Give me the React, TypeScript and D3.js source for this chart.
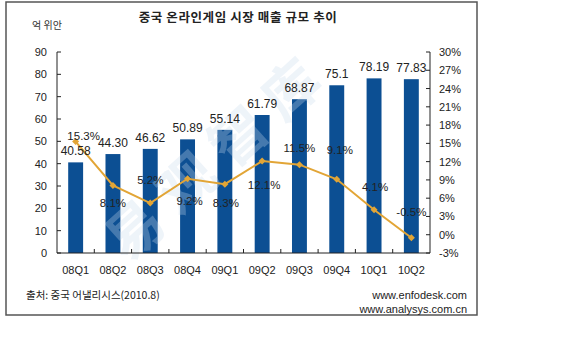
import React from "react";
import * as d3 from "d3";

const categories = ["08Q1", "08Q2", "08Q3", "08Q4", "09Q1", "09Q2", "09Q3", "09Q4", "10Q1", "10Q2"];
const revenue = [40.58, 44.3, 46.62, 50.89, 55.14, 61.79, 68.87, 75.1, 78.19, 77.83];
const revenueLabels = ["40.58", "44.30", "46.62", "50.89", "55.14", "61.79", "68.87", "75.1", "78.19", "77.83"];
const growth = [15.3, 8.1, 5.2, 9.2, 8.3, 12.1, 11.5, 9.1, 4.1, -0.5];
const leftTicks = [0, 10, 20, 30, 40, 50, 60, 70, 80, 90];
const rightTicks = [-3, 0, 3, 6, 9, 12, 15, 18, 21, 24, 27, 30];

const title = "중국 온라인게임 시장 매출 규모 추이";
const unitLabel = "억 위안";
const sourceLabel = "출처: 중국 어낼리시스(2010.8)";
const site1 = "www.enfodesk.com";
const site2 = "www.analysys.com.cn";
const watermark = "易观智库";

// label placement (layout, not data)
const growthLabelDy = [-6, 18, -23, 22, 19, 24, -17, -29, -23, -26];
const growthLabelDx = [8, 0, 0, 2, 1, 2, 0, 3, 1, 0];

const W = 570;
const H = 356;
const plot = { left: 57, right: 430, top: 52, bottom: 253 };
const NUM_FONT = "'Liberation Sans', Arial, sans-serif";
const KR_FONT = "'Noto Sans CJK KR', sans-serif";
const BAR = "#0c4f93";
const LINE = "#e2a536";

export default function App() {
  const x = d3
    .scaleBand<string>()
    .domain(categories)
    .range([plot.left, plot.right])
    .paddingInner(0.6)
    .paddingOuter(0.3);
  const step = (plot.right - plot.left) / categories.length;
  const yL = d3.scaleLinear().domain([0, 90]).range([plot.bottom, plot.top]);
  const yR = d3.scaleLinear().domain([-3, 30]).range([plot.bottom, plot.top]);
  const cx = (c: string) => (x(c) as number) + x.bandwidth() / 2;

  const line = d3
    .line<number>()
    .x((_, i) => cx(categories[i]))
    .y((d) => yR(d));

  return (
    <svg
      width={W}
      height={H}
      style={{ position: "absolute", left: 0, top: 0, background: "#fff" }}
    >
      <rect x={0} y={0} width={W} height={H} fill="#fff" />
      <rect x={6} y={2} width={471} height={313} fill="#fff" stroke="#555" strokeWidth={1.5} />

      <text
        x={238}
        y={22}
        textAnchor="middle"
        fontFamily={KR_FONT}
        fontWeight="bold"
        fontSize={12.5}
        letterSpacing={0.6}
        fill="#222"
      >
        {title}
      </text>
      <text x={32} y={29} fontFamily={KR_FONT} fontSize={10} fill="#333">
        {unitLabel}
      </text>

      {/* bars */}
      {categories.map((c, i) => (
        <rect
          key={c}
          x={x(c)}
          y={yL(revenue[i])}
          width={x.bandwidth()}
          height={plot.bottom - yL(revenue[i])}
          fill={BAR}
        />
      ))}

      {/* watermark */}
      <text
        transform="translate(215,152) rotate(-42)"
        textAnchor="middle"
        dominantBaseline="central"
        fontFamily="'Noto Sans CJK SC', sans-serif"
        fontWeight="bold"
        fontSize={56}
        letterSpacing={14}
        fill="#c9dbee"
        opacity={0.3}
      >
        {watermark}
      </text>

      {/* axes */}
      <g stroke="#222" strokeWidth={1} fill="none">
        <line x1={plot.left} x2={plot.left} y1={plot.top} y2={plot.bottom} />
        <line x1={plot.right} x2={plot.right} y1={plot.top} y2={plot.bottom} />
        <line x1={plot.left} x2={plot.right} y1={plot.bottom} y2={plot.bottom} />
        {leftTicks.map((t) => (
          <line key={"l" + t} x1={plot.left} x2={plot.left + 4} y1={yL(t)} y2={yL(t)} />
        ))}
        {rightTicks.map((t) => (
          <line key={"r" + t} x1={plot.right - 4} x2={plot.right} y1={yR(t)} y2={yR(t)} />
        ))}
        {categories.map((c, i) =>
          i === 0 ? null : (
            <line
              key={"b" + c}
              x1={plot.left + step * i}
              x2={plot.left + step * i}
              y1={plot.bottom}
              y2={plot.bottom - 4}
            />
          )
        )}
      </g>

      <g fontFamily={NUM_FONT} fontSize={11} fill="#222">
        {leftTicks.map((t) => (
          <text key={"lt" + t} x={47} y={yL(t)} textAnchor="end" dominantBaseline="central">
            {t}
          </text>
        ))}
        {rightTicks.map((t) => (
          <text key={"rt" + t} x={439} y={yR(t)} dominantBaseline="central">
            {t + "%"}
          </text>
        ))}
        {categories.map((c) => (
          <text key={"xt" + c} x={cx(c)} y={270} textAnchor="middle" dominantBaseline="central">
            {c}
          </text>
        ))}
      </g>

      {/* line */}
      <path d={line(growth) || ""} fill="none" stroke={LINE} strokeWidth={2} />
      {growth.map((g, i) => {
        const px = cx(categories[i]);
        const py = yR(g);
        return (
          <path
            key={"m" + i}
            d={`M${px},${py - 3.5}L${px + 3.5},${py}L${px},${py + 3.5}L${px - 3.5},${py}Z`}
            fill={LINE}
          />
        );
      })}

      {/* value labels */}
      <g fontFamily={NUM_FONT} fontSize={12} fill="#222">
        {categories.map((c, i) => (
          <text key={"v" + c} x={cx(c)} y={yL(revenue[i]) - 7} textAnchor="middle">
            {revenueLabels[i]}
          </text>
        ))}
        {growth.map((g, i) => (
          <text
            key={"g" + i}
            x={cx(categories[i]) + growthLabelDx[i]}
            y={yR(g) + growthLabelDy[i]}
            textAnchor="middle"
            dominantBaseline="central"
            fontSize={11.5}
          >
            {g.toFixed(1) + "%"}
          </text>
        ))}
      </g>

      {/* footer */}
      <text x={26} y={299} fontFamily={KR_FONT} fontSize={10.5} fill="#222">
        {sourceLabel}
      </text>
      <g fontFamily={NUM_FONT} fontSize={11} fill="#222" textAnchor="end">
        <text x={467} y={299}>{site1}</text>
        <text x={467} y={313}>{site2}</text>
      </g>
    </svg>
  );
}
